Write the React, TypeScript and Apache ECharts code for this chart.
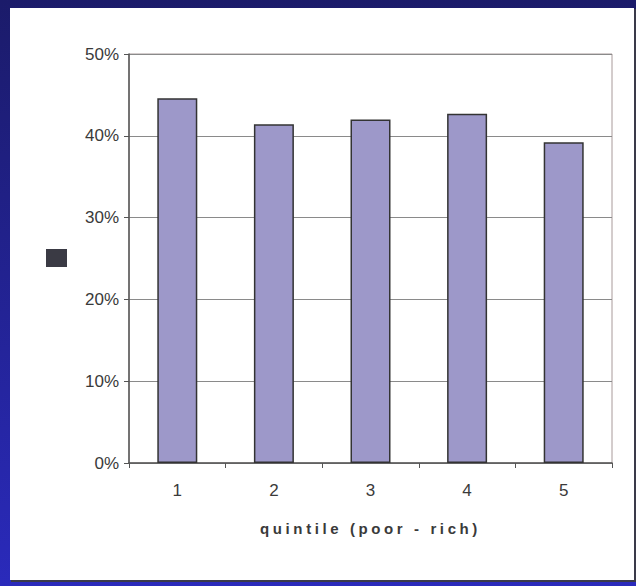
import React, { useEffect, useRef } from "react";
import * as echarts from "echarts";

const categories = ["1", "2", "3", "4", "5"];
const values = [44.6, 41.4, 42.0, 42.7, 39.2];
const yTicks = { min: 0, max: 50, interval: 10 };
const xAxisName = "quintile (poor - rich)";

export default function App() {
  const ref = useRef<HTMLDivElement>(null);
  useEffect(() => {
    if (!ref.current) return;
    const chart = echarts.init(ref.current, null, { renderer: "svg" });
    const textColor = "#3a3a3a";
    chart.setOption({
      animation: false,
      backgroundColor: {
        type: "linear",
        x: 0, y: 0, x2: 0, y2: 1,
        colorStops: [
          { offset: 0, color: "#1b1b6a" },
          { offset: 1, color: "#2a2abb" },
        ],
      },
      graphic: [
        { type: "rect", z: -10, shape: { x: 11, y: 9, width: 625, height: 573 }, style: { fill: "#3a3a4a" } },
        { type: "rect", z: -9, shape: { x: 10, y: 8, width: 624, height: 572 }, style: { fill: "#ffffff" } },
        { type: "rect", shape: { x: 46, y: 249, width: 21, height: 18 }, style: { fill: "#3a3a44" } },
      ],
      grid: {
        left: 129, right: 24, top: 54, bottom: 123,
        show: true, borderColor: "#a89a9a", borderWidth: 1, backgroundColor: "transparent",
      },
      xAxis: {
        type: "category",
        data: categories,
        axisLine: { lineStyle: { color: "#555", width: 1.5 } },
        axisTick: { show: true, length: 5, lineStyle: { color: "#555" } },
        axisLabel: { color: textColor, fontSize: 17, fontFamily: "Liberation Sans", margin: 19 },
        name: xAxisName,
        nameLocation: "middle",
        nameGap: 58,
        nameTextStyle: { color: textColor, fontSize: 15, fontWeight: "bold", fontFamily: "Liberation Sans" },
      },
      yAxis: {
        type: "value",
        min: yTicks.min, max: yTicks.max, interval: yTicks.interval,
        axisLine: { show: true, lineStyle: { color: "#555", width: 1.5 } },
        axisTick: { show: true, length: 5, lineStyle: { color: "#555" } },
        axisLabel: { color: textColor, fontSize: 17, fontFamily: "Liberation Sans", margin: 10, formatter: "{value}%" },
        splitLine: { lineStyle: { color: "#8a8a8a", width: 1 } },
      },
      series: [
        {
          type: "bar",
          data: values,
          barWidth: 40,
          itemStyle: { color: "#9d98c9", borderColor: "#333", borderWidth: 1.5 },
          emphasis: { disabled: true },
        },
      ],
    });
    const texts = ref.current.querySelectorAll("text");
    texts.forEach((t) => {
      if (t.textContent && t.textContent.indexOf("quintile") >= 0) {
        (t as SVGTextElement).style.letterSpacing = "3.6px";
      }
    });
    return () => chart.dispose();
  }, []);
  return (
    <div
      ref={ref}
      style={{ position: "absolute", left: 0, top: 0, width: 636, height: 586 }}
    />
  );
}
